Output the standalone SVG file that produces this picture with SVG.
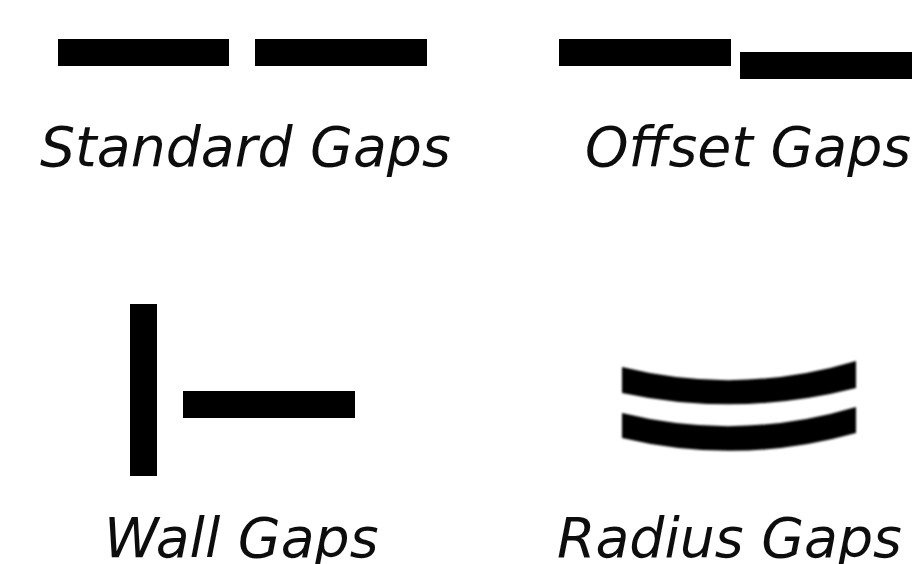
<svg xmlns="http://www.w3.org/2000/svg" width="916" height="564" viewBox="0 0 916 564">
<style>
.t{font-family:"DejaVu Sans",Verdana,sans-serif;font-style:italic;font-size:55.3px;fill:#111;filter:url(#softer)}
.b{fill:#000;filter:url(#softer)}
.s{filter:url(#soft)}
</style>
<defs>
<filter id="soft" x="-5%" y="-20%" width="110%" height="140%"><feGaussianBlur stdDeviation="0.9"/></filter>
<filter id="softer" x="-5%" y="-5%" width="110%" height="110%"><feGaussianBlur stdDeviation="0.5"/></filter>
</defs>
<rect width="916" height="564" fill="#fff"/>
<g id="standard-gaps"><rect class="b" x="58" y="39" width="171" height="27"/><rect class="b" x="255" y="39" width="172" height="27"/><text class="t" x="40" y="166">Standard Gaps</text></g>
<g id="offset-gaps"><rect class="b" x="559" y="39" width="172" height="27"/><rect class="b" x="740" y="52" width="172" height="27"/><text class="t" x="585" y="166">Offset Gaps</text></g>
<g id="wall-gaps"><rect class="b" x="130" y="304" width="27" height="172"/><rect class="b" x="183" y="391" width="172" height="27"/><text class="t" x="104" y="557">Wall Gaps</text></g>
<g id="radius-gaps"><path class="b s" d="M622 367Q739 396 856 361V388Q739 418 622 393Z"/><path class="b s" d="M622 413Q739 442 856 407V433Q739 466 622 438Z"/><text class="t" x="557" y="557">Radius Gaps</text></g>
</svg>
